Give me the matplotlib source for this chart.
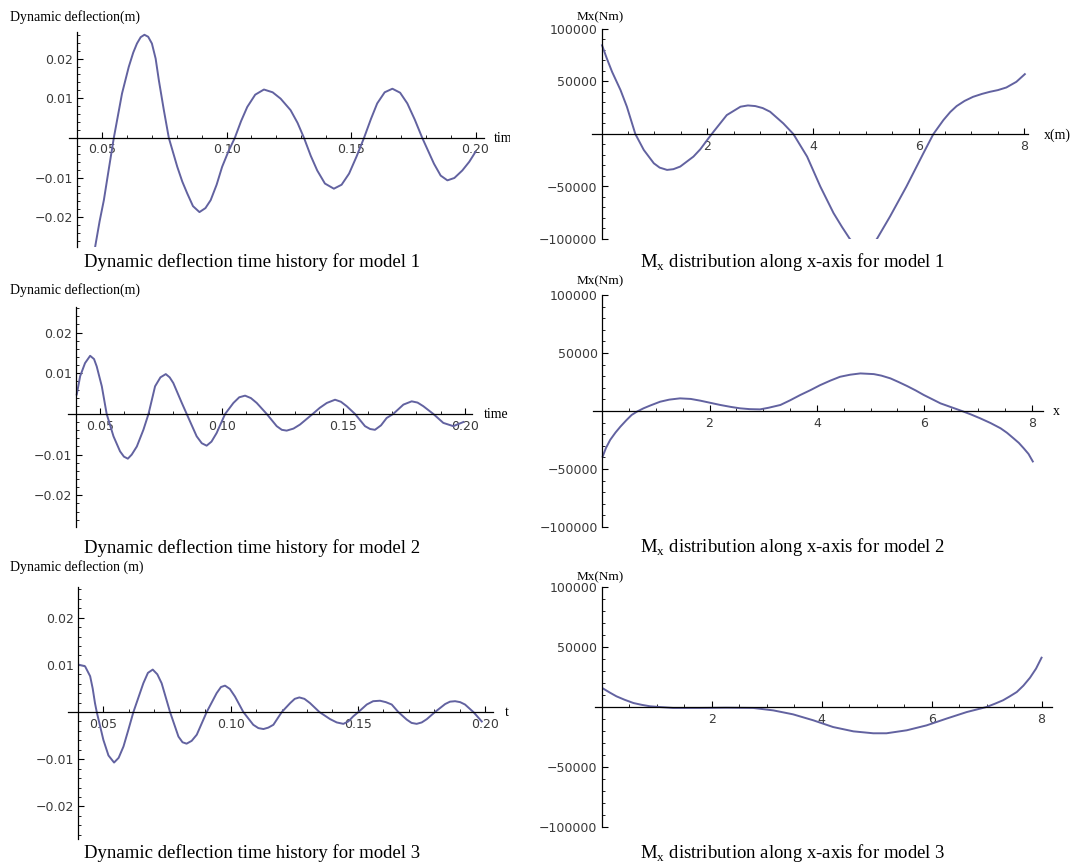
import matplotlib.pyplot as plt
from matplotlib.ticker import FixedLocator, MultipleLocator
from matplotlib.transforms import Bbox, TransformedBbox

# dynamic deflection time histories (time, deflection in m)
t1 = [0.0466, 0.0473, 0.049, 0.0507, 0.0527, 0.0547, 0.058, 0.0607, 0.0625, 0.064,
      0.0655, 0.067, 0.0685, 0.070, 0.0715, 0.0728, 0.0748, 0.0768, 0.0802, 0.0822,
      0.0842, 0.0865, 0.0891, 0.0915, 0.0936, 0.096, 0.0982, 0.1008, 0.1033, 0.1058,
      0.1083, 0.1115, 0.115, 0.1185, 0.1217, 0.1257, 0.1285, 0.1311, 0.1338, 0.1364,
      0.1395, 0.1431, 0.1462, 0.1492, 0.1522, 0.1552, 0.158, 0.1605, 0.1635, 0.1666,
      0.1697, 0.1726, 0.1756, 0.1786, 0.1833, 0.186, 0.1887, 0.1915, 0.1947, 0.1975,
      0.2]
d1 = [-0.030, -0.0271, -0.021, -0.0157, -0.0078, 0.0, 0.0112, 0.0179, 0.0215, 0.0238,
      0.0254, 0.026, 0.0255, 0.0238, 0.020, 0.0145, 0.007, 0.0, -0.0073, -0.0110,
      -0.014, -0.0172, -0.0187, -0.0177, -0.0157, -0.0118, -0.0073, -0.0033, 0.0, 0.0042,
      0.0078, 0.0109, 0.0122, 0.0115, 0.0099, 0.007, 0.0038, 0.0, -0.0045, -0.0082,
      -0.0115, -0.0128, -0.0118, -0.009, -0.0047, 0.0, 0.0048, 0.0087, 0.0115, 0.0124,
      0.0114, 0.0087, 0.0046, 0.0, -0.0065, -0.0095, -0.0107, -0.0101, -0.0082, -0.006,
      -0.0035]

t2 = [0.0404, 0.0418, 0.0438, 0.0459, 0.0475, 0.0486, 0.0507, 0.0527, 0.0555, 0.0582,
      0.0598, 0.0614, 0.063, 0.0651, 0.0678, 0.0699, 0.0726, 0.0748, 0.077, 0.0786,
      0.0801, 0.0836, 0.0856, 0.0897, 0.0918, 0.0938, 0.0958, 0.0979, 0.1014, 0.1048,
      0.1072, 0.1096, 0.112, 0.1144, 0.1185, 0.1226, 0.1247, 0.1267, 0.1295, 0.1322,
      0.1374, 0.1403, 0.1432, 0.1466, 0.149, 0.1514, 0.1548, 0.1589, 0.161, 0.163,
      0.1655, 0.1678, 0.1705, 0.1747, 0.1781, 0.1805, 0.1829, 0.187, 0.1911, 0.1952,
      0.1993]
d2 = [0.0048, 0.0093, 0.0125, 0.0143, 0.0135, 0.0117, 0.0068, 0.0, -0.0055, -0.0092,
      -0.0105, -0.011, -0.0100, -0.008, -0.0039, 0.0, 0.0068, 0.0090, 0.0098, 0.0090,
      0.0076, 0.0027, 0.0, -0.0055, -0.0072, -0.0078, -0.0068, -0.0047, 0.0, 0.0027,
      0.0041, 0.0045, 0.0039, 0.0027, 0.0, -0.003, -0.0039, -0.0041, -0.0036, -0.0026,
      0.0, 0.0015, 0.0027, 0.0035, 0.003, 0.0019, 0.0, -0.003, -0.0037, -0.0039,
      -0.0028, -0.001, 0.0, 0.0023, 0.0031, 0.0028, 0.0019, 0.0, -0.0022, -0.003,
      -0.002]

t3 = [0.0406, 0.0428, 0.0448, 0.0458, 0.0467, 0.0474, 0.05, 0.052, 0.0542, 0.056,
      0.0579, 0.0598, 0.0618, 0.0657, 0.0675, 0.0694, 0.0712, 0.0729, 0.0762, 0.0795,
      0.0811, 0.0827, 0.0847, 0.0867, 0.0906, 0.0945, 0.0962, 0.0978, 0.0997, 0.1017,
      0.105, 0.1089, 0.1109, 0.1129, 0.1148, 0.1168, 0.1201, 0.1234, 0.1252, 0.127,
      0.129, 0.1312, 0.1349, 0.1391, 0.1417, 0.1443, 0.1462, 0.1482, 0.1502, 0.1535,
      0.156, 0.1587, 0.161, 0.1633, 0.1659, 0.1692, 0.1711, 0.1731, 0.1751, 0.1771,
      0.1803, 0.1843, 0.1862, 0.1882, 0.1902, 0.1921, 0.1954, 0.1987]
d3 = [0.01, 0.0097, 0.0076, 0.0050, 0.0019, 0.0, -0.0059, -0.0092, -0.0107, -0.0097,
      -0.0073, -0.0038, 0.0, 0.0061, 0.0083, 0.009, 0.0080, 0.0061, 0.0, -0.0052,
      -0.0064, -0.0067, -0.0061, -0.0048, 0.0, 0.004, 0.0053, 0.0056, 0.0049, 0.0033,
      0.0, -0.0027, -0.0034, -0.0036, -0.0033, -0.0027, 0.0, 0.0019, 0.0028, 0.0031,
      0.0028, 0.0019, 0.0, -0.0015, -0.0022, -0.0025, -0.0020, -0.0009, 0.0, 0.0016,
      0.0023, 0.0024, 0.0021, 0.0016, 0.0, -0.0016, -0.0023, -0.0025, -0.0022, -0.0015,
      0.0, 0.0017, 0.0022, 0.0023, 0.0021, 0.0016, 0.0, -0.002]

# Mx distributions along x-axis (x in m, Mx in Nm)
x4 = [0.01, 0.1, 0.2, 0.36, 0.48, 0.56, 0.64, 0.8, 0.99, 1.1,
      1.24, 1.36, 1.49, 1.74, 1.87, 2.0, 2.12, 2.37, 2.63, 2.77,
      2.91, 3.05, 3.19, 3.44, 3.63, 3.89, 4.14, 4.39, 4.55, 4.70,
      4.82, 4.96, 5.10, 5.21, 5.46, 5.77, 6.09, 6.28, 6.47, 6.6,
      6.72, 6.87, 7.03, 7.2, 7.35, 7.5, 7.66, 7.85, 8.01]
m4 = [84500, 72000, 59200, 41800, 26000, 13000, 0, -15200, -27900, -32000,
      -34200, -33500, -31000, -21500, -14500, -5700, 2200, 18000, 26000, 27200,
      26600, 24700, 21200, 10100, 0, -21500, -50000, -75300, -88500, -100000,
      -106000, -109000, -106000, -100000, -78500, -50000, -18400, 0, 13300, 21000,
      26600, 31500, 35400, 38200, 40200, 41800, 44300, 49700, 57000]

x5 = [0.01, 0.07, 0.15, 0.25, 0.34, 0.45, 0.55, 0.65, 0.77, 0.9,
      1.08, 1.25, 1.45, 1.65, 1.83, 2.0, 2.2, 2.4, 2.57, 2.75,
      2.94, 3.1, 3.32, 3.5, 3.69, 3.88, 4.06, 4.25, 4.43, 4.62,
      4.81, 5.06, 5.2, 5.37, 5.52, 5.68, 5.84, 5.99, 6.15, 6.30,
      6.5, 6.70, 6.87, 7.04, 7.23, 7.42, 7.54, 7.66, 7.76, 7.85,
      7.94, 8.02]
m5 = [-39300, -32000, -24900, -18500, -13500, -8000, -3400, -500, 2300, 4800,
      8000, 9800, 10900, 10400, 8900, 7200, 5200, 3500, 2300, 1600,
      1400, 2800, 5200, 9200, 13800, 18000, 22300, 26200, 29500, 31300,
      32400, 31800, 30500, 28100, 25000, 21500, 17700, 13800, 10100, 6600,
      3300, 0, -3000, -6300, -10300, -14900, -18800, -23500, -27500, -32100,
      -37000, -43500]

x6 = [0.03, 0.15, 0.27, 0.42, 0.58, 0.73, 0.88, 1.05, 1.3, 1.79,
      2.27, 2.76, 3.12, 3.48, 3.85, 4.21, 4.58, 4.94, 5.18, 5.55,
      5.91, 6.27, 6.64, 7.0, 7.15, 7.3, 7.42, 7.55, 7.67, 7.79,
      7.9, 8.0]
m6 = [15300, 12000, 8900, 6000, 3300, 1800, 600, 0, -800, -800,
      -600, -800, -2800, -6100, -11100, -16700, -20300, -21900, -21900, -19400,
      -15300, -9700, -4200, 0, 2700, 5600, 8800, 12500, 17800, 24400,
      32000, 41100]

t_ticks = [0.05, 0.10, 0.15, 0.20]
t_labels = ['0.05', '0.10', '0.15', '0.20']
d_ticks = [-0.02, -0.01, 0.01, 0.02]
d_labels = ['\u22120.02', '\u22120.01', '0.01', '0.02']
x_ticks = [2, 4, 6, 8]
x_labels = ['2', '4', '6', '8']
m_ticks = [-100000, -50000, 50000, 100000]
m_labels = ['\u2212100000', '\u221250000', '50000', '100000']

captions_left = ['Dynamic deflection time history for model 1',
                 'Dynamic deflection time history for model 2',
                 'Dynamic deflection time history for model 3']
captions_right = ['M$_\\mathregular{x}$ distribution along x-axis for model 1',
                  'M$_\\mathregular{x}$ distribution along x-axis for model 2',
                  'M$_\\mathregular{x}$ distribution along x-axis for model 3']
ylab_left = ['Dynamic deflection(m)', 'Dynamic deflection(m)', 'Dynamic deflection (m)']

W, H = 1077, 863
fig = plt.figure(figsize=(W / 100, H / 100), dpi=100)
line_col = '#6262a0'
tick_col = '#3a3a3a'
serif = 'Liberation Serif'


def add_ax(x0, x1, y0, y1):
    return fig.add_axes([x0 / W, 1 - y1 / H, (x1 - x0) / W, (y1 - y0) / H])


def style(ax, xlim, ylim, yorig, xt, xl, yt, yl, xmin, ymin):
    ax.set_xlim(xlim)
    ax.set_ylim(ylim)
    ax.patch.set_alpha(0)
    ax.spines['top'].set_visible(False)
    ax.spines['right'].set_visible(False)
    ax.spines['left'].set_position(('data', yorig))
    ax.spines['bottom'].set_position(('data', 0))
    for s in ['left', 'bottom']:
        ax.spines[s].set_linewidth(0.9)
    ax.xaxis.set_major_locator(FixedLocator(xt))
    ax.set_xticklabels(xl)
    ax.yaxis.set_major_locator(FixedLocator(yt))
    ax.set_yticklabels(yl)
    ax.xaxis.set_minor_locator(MultipleLocator(xmin))
    ax.yaxis.set_minor_locator(MultipleLocator(ymin))
    ax.tick_params(which='major', direction='in', length=4, width=0.8,
                   labelsize=9, labelcolor=tick_col)
    ax.tick_params(which='minor', direction='in', length=2, width=0.6)
    ax.tick_params(axis='x', pad=4)
    ax.tick_params(axis='y', pad=3)


# left column: deflection time histories
ax1 = add_ax(69, 484, 32, 247)
ax1.plot(t1, d1, color=line_col, lw=1.4, solid_joinstyle='round')
style(ax1, (0.0367, 0.2034), (-0.0275, 0.0267), 0.04, t_ticks, t_labels,
      d_ticks, d_labels, 0.01, 0.002)

ax2 = add_ax(68, 472, 307, 527)
ax2.plot(t2, d2, color=line_col, lw=1.4, solid_joinstyle='round')
style(ax2, (0.0368, 0.2029), (-0.0278, 0.0263), 0.04, t_ticks, t_labels,
      d_ticks, d_labels, 0.01, 0.002)

ax3 = add_ax(68, 493, 587, 839)
ax3.plot(t3, d3, color=line_col, lw=1.4, solid_joinstyle='round')
style(ax3, (0.0361, 0.2031), (-0.0269, 0.0265), 0.04, t_ticks, t_labels,
      d_ticks, d_labels, 0.01, 0.002)

# right column: Mx distributions
ax4 = add_ax(592, 1028, 29, 239)
ax4.plot(x4, m4, color=line_col, lw=1.4, solid_joinstyle='round')
style(ax4, (-0.18, 8.07), (-100000, 100000), 0, x_ticks, x_labels,
      m_ticks, m_labels, 0.5, 10000)

ax5 = add_ax(593, 1043, 295, 527)
ax5.plot(x5, m5, color=line_col, lw=1.4, solid_joinstyle='round')
style(ax5, (-0.17, 8.21), (-100000, 100000), 0, x_ticks, x_labels,
      m_ticks, m_labels, 0.5, 10000)

ax6 = add_ax(595, 1052, 587, 827)
ax6.plot(x6, m6, color=line_col, lw=1.4, solid_joinstyle='round')
style(ax6, (-0.12, 8.19), (-100000, 100000), 0, x_ticks, x_labels,
      m_ticks, m_labels, 0.5, 10000)


def ftext(x, y, s, **kw):
    return fig.text(x / W, 1 - y / H, s, **kw)


# captions
for y, s in zip([262, 548, 853], captions_left):
    ftext(252, y, s, ha='center', va='center', fontsize=13.5, family=serif)
for y, s in zip([262, 547, 853], captions_right):
    ftext(793, y, s, ha='center', va='center', fontsize=13.5, family=serif)

# axis labels
for y, s in zip([17, 290, 567], ylab_left):
    ftext(10, y, s, ha='left', va='center', fontsize=10, family=serif)
for y in [17, 281, 577]:
    ftext(600, y, 'Mx(Nm)', ha='center', va='center', fontsize=9.5, family=serif)

left_clip = TransformedBbox(Bbox.from_extents(0, 0, 510 / W, 1), fig.transFigure)
lab = ftext(494, 138, 'time', ha='left', va='center', fontsize=10, family=serif)
lab.set_clip_box(left_clip)
lab.set_clip_on(True)
ftext(484, 414, 'time', ha='left', va='center', fontsize=10, family=serif)
ftext(505, 712, 't', ha='left', va='center', fontsize=10, family=serif)

ftext(1044, 135, 'x(m)', ha='left', va='center', fontsize=10, family=serif)
ftext(1053, 411, 'x', ha='left', va='center', fontsize=10, family=serif)

fig.savefig('out.png', dpi=100)
